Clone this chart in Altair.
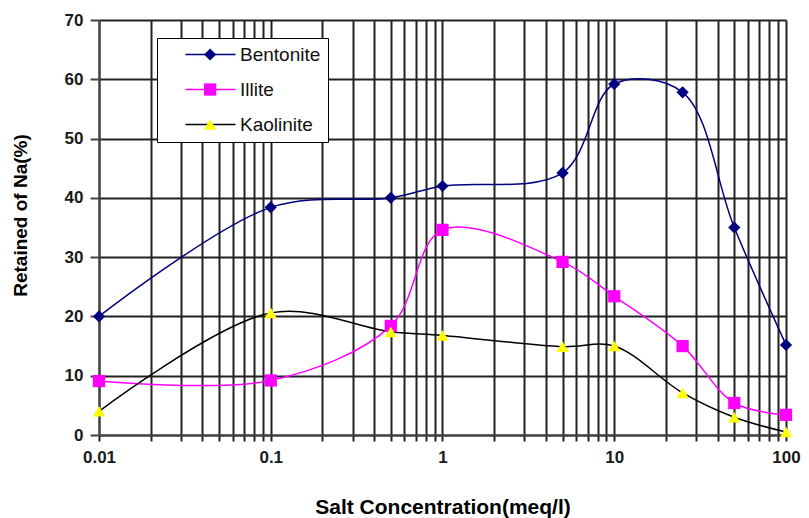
import altair as alt
import pandas as pd

# ---- data ----
conc = [0.01, 0.1, 0.5, 1, 5, 10, 25, 50, 100]
bentonite = [20, 38.4, 40, 42, 44.2, 59.2, 57.8, 35, 15.2]
illite = [9.1, 9.2, 18.4, 34.6, 29.2, 23.4, 15, 5.4, 3.4]
kaolinite = [4, 20.6, 17.4, 16.8, 14.9, 15, 7.1, 3, 0.5]

series_names = ["Bentonite", "Illite", "Kaolinite"]
line_colors = ["#000080", "#FF00FF", "#000000"]
marker_colors = ["#000080", "#FF00FF", "#FFFF00"]
marker_shapes = ["diamond", "square", "triangle-up"]

decade_labels = [0.01, 0.1, 1, 10, 100]
grid_x = sorted({round(d * m, 6) for d in decade_labels[:-1] for m in range(1, 10)} | {100})
y_ticks = [0, 10, 20, 30, 40, 50, 60, 70]

rows = []
for name, vals in zip(series_names, [bentonite, illite, kaolinite]):
    for c, v in zip(conc, vals):
        rows.append({"conc": c, "value": v, "series": name})
df = pd.DataFrame(rows)

FONT = "Liberation Sans"
label_expr = "indexof([" + ",".join(str(v) for v in decade_labels) + "], datum.value) >= 0 ? datum.label : ''"

x_enc = alt.X(
    "conc:Q",
    scale=alt.Scale(type="log", domain=[0.01, 100], nice=False),
    axis=alt.Axis(
        values=grid_x, format="~g", labelExpr=label_expr, labelOverlap=False, labelFlush=False,
        grid=True, gridColor="#222222", gridWidth=2,
        domainColor="#444444", domainWidth=2, tickColor="#222222", tickWidth=2, tickSize=6,
        labelFont=FONT, labelFontSize=17, labelFontWeight="bold", labelColor="#1a1a1a", labelPadding=8,
        title="Salt Concentration(meq/l)", titleFont=FONT, titleFontSize=21, titleFontWeight="bold",
        titleColor="#000000", titlePadding=31,
    ),
)
y_enc = alt.Y(
    "value:Q",
    scale=alt.Scale(domain=[0, 70], nice=False),
    axis=alt.Axis(
        values=y_ticks, grid=True, gridColor="#222222", gridWidth=2,
        domainColor="#444444", domainWidth=2, tickColor="#444444", tickWidth=2, tickSize=9,
        labelFont=FONT, labelFontSize=17, labelFontWeight="bold", labelColor="#1a1a1a", labelPadding=7,
        title="Retained of Na(%)", titleFont=FONT, titleFontSize=19, titleFontWeight="bold",
        titleColor="#000000", titlePadding=34, titleY=195,
    ),
)

common_legend = dict(
    title=None, orient="none", legendX=58, legendY=18, padding=7, rowPadding=15,
    labelFont=FONT, labelFontSize=19, labelColor="#111111",
    labelExpr="datum.label + '\u00a0\u00a0\u00a0\u00a0\u00a0\u00a0\u00a0\u00a0\u00a0'",
)

legend_lines = alt.Legend(
    symbolType="M-5,0H5", symbolSize=100, symbolStrokeWidth=1.5, symbolOffset=37, labelOffset=20,
    fillColor="white", strokeColor="#000000", zindex=1,
    **common_legend,
)
legend_marks = alt.Legend(
    symbolSize=150, symbolStrokeWidth=0, symbolOpacity=1, symbolOffset=36.6, labelOffset=20,
    labelOpacity=0, zindex=2,
    **common_legend,
)

lines = alt.Chart(df).mark_line(interpolate="catmull-rom", strokeWidth=1.5).encode(
    x=x_enc,
    y=y_enc,
    stroke=alt.Stroke("series:N", scale=alt.Scale(range=line_colors), legend=legend_lines),
)

points = alt.Chart(df).transform_calculate(mineral="datum.series").mark_point(
    filled=True, size=150, opacity=1, strokeWidth=0
).encode(
    x=alt.X("conc:Q"),
    y=alt.Y("value:Q"),
    fill=alt.Fill("mineral:N", scale=alt.Scale(range=marker_colors), legend=legend_marks),
    shape=alt.Shape("mineral:N", scale=alt.Scale(range=marker_shapes), legend=legend_marks),
)

chart = alt.layer(lines, points).properties(
    width=687, height=415,
    padding={"left": 99, "top": 20, "right": 23, "bottom": 83},
    autosize=alt.AutoSizeParams(type="none"),
    background="white",
).configure_view(strokeWidth=0)

chart.save("out.html", embed_options={"renderer": "svg", "actions": False})
